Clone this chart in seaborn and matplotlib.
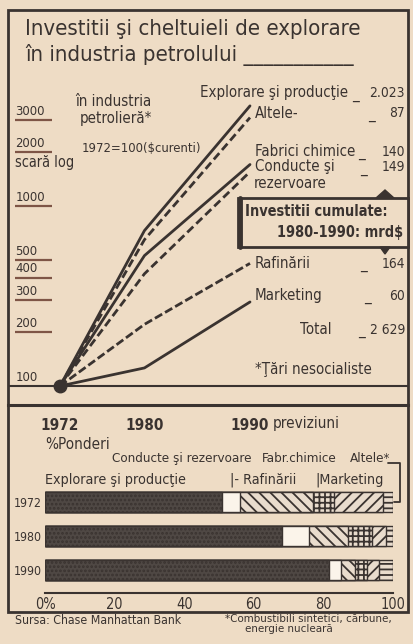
import numpy as np
import pandas as pd
import matplotlib
matplotlib.use("Agg")
import matplotlib.pyplot as plt
import seaborn as sns
from matplotlib import font_manager as fm
from matplotlib.patches import Rectangle, Polygon
from matplotlib.lines import Line2D
from matplotlib.transforms import Affine2D
from matplotlib.ticker import NullLocator, MultipleLocator

# indici 1972=100 ($ curenti), scara log
ani = [1972, 1980, 1990]
explorare = [100, 730, 3600]
altele = [100, 650, 3100]
fabrici = [100, 530, 1700]
conducte = [100, 420, 1550]
rafinarii = [100, 220, 480]
marketing = [100, 126, 293]
serii = ["Explorare", "Altele", "Fabrici", "Conducte", "Rafinarii", "Marketing"]

# investitii cumulate 1980-1990 (mrd $)
etichete_dr = ["Explorare şi producţie", "Altele-", "Fabrici chimice", "Conducte şi",
               "Rafinării", "Marketing", "Total"]
valori_dr = ["2.023", "87", "140", "149", "164", "60", "2 629"]

# ponderi %
ani_bar = ["1972", "1980", "1990"]
p_explorare = [51, 68, 81.5]
p_conducte = [5, 8, 3.5]
p_rafinarii = [21, 11, 4]
p_fabrici = [6, 7, 3.5]
p_marketing = [14, 4, 3.5]
p_altele = [3, 2, 4]

valori_y = [100, 200, 300, 400, 500, 1000, 2000, 3000]

BG = "#eedcc5"
INK = "#3a3330"
BROWN = "#7e5546"

W, H = 413, 644
sns.set_theme(style="white")
plt.rcParams["font.family"] = ["DejaVu Sans"]
# varianta condensata daca exista, altfel litere ceva mai mici
k = 1.0
cale = fm.findfont(fm.FontProperties(family="DejaVu Sans", stretch="condensed"))
if "Condensed" in cale:
    plt.rcParams["font.stretch"] = "condensed"
    k = 1.1
plt.rcParams["hatch.linewidth"] = 1.3
plt.rcParams["text.color"] = INK
plt.rcParams["axes.edgecolor"] = INK
plt.rcParams["xtick.color"] = INK
plt.rcParams["ytick.color"] = INK

fig = plt.figure(figsize=(W / 100, H / 100), dpi=100, facecolor=BG)
pix = Affine2D().scale(1 / W, -1 / H).translate(0, 1) + fig.transFigure


def box(x0, y0, x1, y1):
    return [x0 / W, 1 - y1 / H, (x1 - x0) / W, (y1 - y0) / H]


def txt(x, y, s, size, **kw):
    kw.setdefault("va", "center")
    fig.text(x, y, s, transform=pix, fontsize=size * k, **kw)


# ---- graficul de sus (linii, scara log)
ax1 = fig.add_axes(box(8, 70, 408, 405))
ax1.set_facecolor("none")
df = pd.DataFrame({
    "an": ani * len(serii),
    "indice": explorare + altele + fabrici + conducte + rafinarii + marketing,
    "serie": np.repeat(serii, len(ani)),
})
dashes = {"Explorare": "", "Altele": (3, 1.5), "Fabrici": "", "Conducte": (3, 1.5),
          "Rafinarii": (3, 1.2), "Marketing": ""}
sns.lineplot(data=df, x="an", y="indice", hue="serie", style="serie",
             palette={s: INK for s in serii}, dashes=dashes, linewidth=2,
             legend=False, ax=ax1)
ax1.plot(ani[0], explorare[0], "o", color=INK, ms=9)
ax1.set_yscale("log")
ax1.set_ylim(100 * 10 ** (-19 / 180), 100 * 10 ** (316 / 180))
ax1.set_xlim(1972 - 52 / (190 / 18), 1990 + 158 / (190 / 18))
ax1.axhline(100, color=INK, lw=1.5)
ax1.set_yticks([])
ax1.yaxis.set_minor_locator(NullLocator())
ax1.set_xticks(ani)
ax1.set_xticklabels([str(a) for a in ani], fontsize=10 * k, fontweight="bold")
ax1.tick_params(axis="x", direction="in", length=8, width=1.3, pad=9)
ax1.set_xlabel("")
ax1.set_ylabel("")
for side in ["top", "left", "right"]:
    ax1.spines[side].set_visible(False)
ax1.spines["bottom"].set_linewidth(2.2)

ytr = ax1.get_yaxis_transform()
ax1.hlines([v for v in valori_y if v != 100], 0.017, 0.11, transform=ytr,
           color=BROWN, lw=1.6)
for v in valori_y:
    ax1.text(0.018, v * 1.03, str(v), transform=ytr, ha="left", va="bottom",
             fontsize=8.5 * k, color=INK)

txt(273, 424, "previziuni", 10, ha="left")

# titlu
txt(25, 29, "Investitii şi cheltuieli de explorare", 14.5, ha="left")
txt(25, 55, "în industria petrolului ___________", 14.5, ha="left")

txt(75, 101, "în industria", 9.8, ha="left")
txt(80, 118, "petrolieră*", 9.8, ha="left")
txt(82, 149, "1972=100($curenti)", 8.5, ha="left")
txt(15, 163, "scară log", 9.5, ha="left")

# etichete dreapta
y_dr = [93, 113, 152, 167, 264, 296, 330]
x_dr = [200, 255, 255, 255, 255, 255, 300]
x_lin = [355, 372, 362, 364, 364, 368, 362]
for lab, val, x, xl, y in zip(etichete_dr, valori_dr, x_dr, x_lin, y_dr):
    txt(x, y, lab, 9.8, ha="left")
    txt(xl, y + 1, "_", 9.8, ha="center")
    txt(405, y, val, 9, ha="right")
txt(290, 183, "rezervoare", 9.8, ha="center")
txt(255, 370, "*Ţări nesocialiste", 9.8, ha="left")

fig.add_artist(Rectangle((238, 198), 170, 49, transform=pix, facecolor=BG,
                         edgecolor=INK, lw=2, zorder=5))
fig.add_artist(Line2D([240, 240], [198, 247], transform=pix, color=INK, lw=3.5, zorder=6))
txt(245, 211, "Investitii cumulate:", 9.5, fontweight="bold", ha="left", zorder=7)
txt(403, 233, "1980-1990: mrd$", 9.5, fontweight="bold", ha="right", zorder=7)
fig.add_artist(Polygon([[376, 198], [394, 198], [385, 190]], closed=True,
                       transform=pix, color=INK, zorder=6))
fig.add_artist(Polygon([[380, 247], [390, 247], [385, 254]], closed=True,
                       transform=pix, color=INK, zorder=6))

# ---- ponderi (bare suprapuse)
ax2 = fig.add_axes(box(45, 485, 393, 593))
ax2.set_facecolor("none")
parti = [p_explorare, p_conducte, p_rafinarii, p_fabrici, p_marketing, p_altele]
stiluri = [("#4f4844", "...."), ("#fbf4ea", None), ("#e9dccd", "\\\\\\"),
           ("#e9dccd", "+++"), ("#e9dccd", "///"), ("#e9dccd", "---")]
cum = np.cumsum(parti, axis=0)
for i in range(len(parti) - 1, -1, -1):
    face, hatch = stiluri[i]
    sns.barplot(x=cum[i], y=ani_bar, orient="h", color=face, hatch=hatch,
                edgecolor=INK, linewidth=1, saturation=1, width=0.6,
                errorbar=None, ax=ax2)
ax2.set_xlim(0, 100)
ax2.set_ylim(2.68, -0.5)
ax2.set_xlabel("")
ax2.set_ylabel("")
for side in ["top", "left", "right"]:
    ax2.spines[side].set_visible(False)
ax2.spines["bottom"].set_linewidth(1.5)
ax2.set_xticks(range(0, 101, 20))
ax2.set_xticklabels(["0%", "20", "40", "60", "80", "100"], fontsize=9.5 * k)
ax2.xaxis.set_minor_locator(MultipleLocator(10))
ax2.tick_params(axis="x", which="major", direction="in", length=6, width=1.3, pad=3)
ax2.tick_params(axis="x", which="minor", direction="in", length=3, width=1.3)
ax2.tick_params(axis="y", length=0, pad=2, labelsize=8 * k)

txt(45, 445, "%Ponderi", 10, ha="left")
txt(112, 459, "Conducte şi rezervoare", 8.8, ha="left")
txt(262, 459, "Fabr.chimice", 8.8, ha="left")
txt(350, 459, "Altele*", 8.8, ha="left")
txt(45, 480, "Explorare şi producţie", 9.3, ha="left")
txt(230, 480, "|- Rafinării", 9.3, ha="left")
txt(315, 480, "|Marketing", 9.3, ha="left")
fig.add_artist(Line2D([388, 400, 400, 394], [463, 463, 502, 502], transform=pix,
                      color=INK, lw=1.3))

# cadru exterior
fig.add_artist(Rectangle((8, 10), 400, 602, transform=pix, fill=False,
                         edgecolor=INK, lw=2))

txt(15, 621, "Sursa: Chase Manhattan Bank", 8, ha="left")
txt(225, 619, "*Combustibili sintetici, cărbune,", 7.5, ha="left")
txt(245, 629, "energie nucleară", 7.5, ha="left")

fig.savefig("out.png", dpi=100, facecolor=BG)
